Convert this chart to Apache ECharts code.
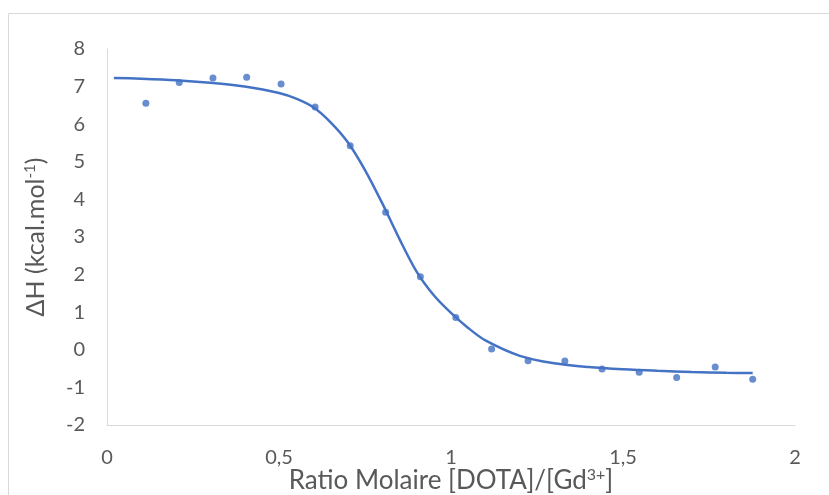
<!DOCTYPE html>
<html lang="fr">
<head>
  <meta charset="UTF-8">
  <title>ITC DOTA / Gd</title>
  <style>
    html, body { margin: 0; padding: 0; background: #fff; }
  </style>
</head>
<body>
  <div id="chart" style="width: 829px; height: 495px;"></div>

<script src="https://cdn.jsdelivr.net/npm/echarts@6/dist/echarts.min.js"></script>
<script>
  // points expérimentaux
  const ratio = [0.113, 0.210, 0.308, 0.406, 0.506, 0.605, 0.707, 0.810, 0.911, 1.014, 1.118, 1.224, 1.331, 1.439, 1.547, 1.656, 1.768, 1.877];
  const dH = [6.56, 7.11, 7.23, 7.25, 7.07, 6.46, 5.43, 3.66, 1.94, 0.86, 0.02, -0.29, -0.30, -0.51, -0.60, -0.74, -0.46, -0.78];

  // courbe d'ajustement
  const fitX = [0.02, 0.1, 0.2, 0.3, 0.4, 0.5, 0.55, 0.6, 0.65, 0.7, 0.75, 0.8, 0.85, 0.9, 0.95, 1.0, 1.05, 1.1, 1.2, 1.3, 1.4, 1.5, 1.6, 1.7, 1.8, 1.877];
  const fitY = [7.23, 7.21, 7.17, 7.10, 7.00, 6.83, 6.68, 6.45, 6.05, 5.52, 4.78, 3.90, 2.95, 2.08, 1.45, 0.98, 0.58, 0.25, -0.16, -0.36, -0.46, -0.52, -0.56, -0.59, -0.61, -0.62];

  const xTicks = [0, 0.5, 1, 1.5, 2];

  const chart = echarts.init(document.getElementById('chart'));
  const font = 'Lato, "Open Sans", sans-serif';
  const grey = '#595959';

  const option = {
    animation: false,
    textStyle: { fontFamily: font },
    graphic: [{
      type: 'rect',
      shape: { x: 8.5, y: 13.5, width: 900, height: 600 },
      style: { fill: 'none', stroke: '#d9d9d9', lineWidth: 1 }
    }],
    grid: { left: 107, right: 34, top: 49, bottom: 70, outerBoundsMode: 'none' },
    xAxis: {
      type: 'value',
      min: 0,
      max: 2,
      interval: 0.5,
      axisLine: { show: true, onZero: false, lineStyle: { color: '#d9d9d9' } },
      axisTick: { show: false },
      splitLine: { show: false },
      axisLabel: {
        color: grey,
        fontSize: 20,
        margin: 23,
        formatter: v => xTicks.includes(v) ? String(v).replace('.', ',') : ''
      },
      name: 'Ratio Molaire [DOTA]/[Gd{sup|3+}]',
      nameLocation: 'middle',
      nameGap: 42,
      nameMoveOverlap: false,
      nameTextStyle: {
        color: grey,
        fontSize: 26,
        rich: { sup: { fontSize: 16, color: grey, padding: [0, 0, 12, 0] } }
      }
    },
    yAxis: {
      type: 'value',
      min: -2,
      max: 8,
      interval: 1,
      axisLine: { show: true, lineStyle: { color: '#d9d9d9' } },
      axisTick: { show: false },
      splitLine: { show: false },
      axisLabel: { color: grey, fontSize: 20, margin: 22 },
      name: 'ΔH (kcal.mol{sup|-1})',
      nameLocation: 'middle',
      nameGap: 58,
      nameRotate: 90,
      nameMoveOverlap: false,
      nameTextStyle: {
        color: grey,
        fontSize: 25,
        rich: { sup: { fontSize: 15, color: grey, padding: [0, 0, 11, 0] } }
      }
    },
    series: [
      {
        name: 'ajustement',
        type: 'line',
        data: fitX.map((x, i) => [x, fitY[i]]),
        smooth: 0.3,
        showSymbol: false,
        lineStyle: { color: '#4472C4', width: 2.5 },
        z: 2
      },
      {
        name: 'mesures',
        type: 'scatter',
        data: ratio.map((x, i) => [x, dH[i]]),
        symbolSize: 7,
        itemStyle: { color: '#4472C4' },
        z: 3
      }
    ]
  };

  chart.setOption(option);
</script>
</body>
</html>
